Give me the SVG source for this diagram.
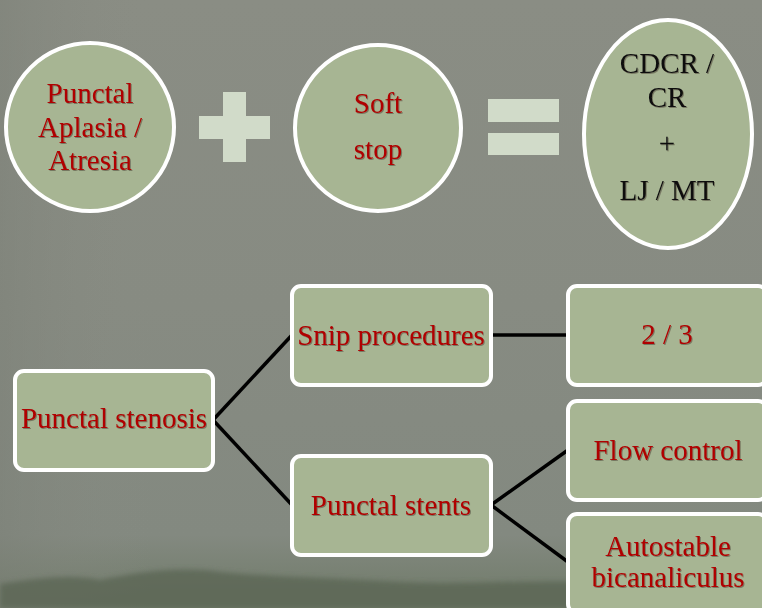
<svg xmlns="http://www.w3.org/2000/svg" width="762" height="608" viewBox="0 0 762 608">
<defs>
<linearGradient id="bg" x1="0" y1="0" x2="0" y2="1">
<stop offset="0" stop-color="#8a8d84"/>
<stop offset="0.5" stop-color="#878b82"/>
<stop offset="0.88" stop-color="#838980"/>
<stop offset="1" stop-color="#6f7a68"/>
</linearGradient>
<linearGradient id="side" x1="0" y1="0" x2="1" y2="0">
<stop offset="0" stop-color="#7c8077" stop-opacity="0.5"/>
<stop offset="0.2" stop-color="#8a8d84" stop-opacity="0"/>
</linearGradient>
<filter id="blur" x="-5%" y="-50%" width="110%" height="200%"><feGaussianBlur stdDeviation="2.5"/></filter>
<filter id="ts" x="-5%" y="-20%" width="110%" height="140%"><feDropShadow dx="1" dy="1" stdDeviation="0.6" flood-color="#3a2a20" flood-opacity="0.45"/></filter>
<style>
.node{fill:#a7b593;stroke:#ffffff;stroke-width:4}
.sym{fill:#d1dbc9}
.t{font-family:"Liberation Serif","Times New Roman",serif;font-size:29px;fill:#b00000;text-anchor:middle;filter:url(#ts)}
.k{fill:#111111}
.c{fill:none;stroke:#000000;stroke-width:3.5}
</style>
</defs>
<rect x="0" y="0" width="762" height="608" fill="url(#bg)"/>
<rect x="0" y="0" width="762" height="608" fill="url(#side)"/>
<path d="M0,584 C40,578 70,574 100,580 C140,572 180,566 220,572 C280,578 340,578 400,582 C460,585 520,580 580,582 C650,584 710,580 762,582 L762,608 L0,608 Z" fill="#5b6655" opacity="0.8" filter="url(#blur)"/>

<g id="aplasia">
<circle class="node" cx="90" cy="127" r="84"/>
<text class="t" x="90" y="103">Punctal</text>
<text class="t" x="90" y="137">Aplasia /</text>
<text class="t" x="90" y="170">Atresia</text>
</g>
<g id="plus">
<rect class="sym" x="223" y="92" width="23" height="70"/>
<rect class="sym" x="199" y="116" width="71" height="23"/>
</g>
<g id="softstop">
<circle class="node" cx="378" cy="128" r="83"/>
<text class="t" x="378" y="113">Soft</text>
<text class="t" x="378" y="159">stop</text>
</g>
<g id="equals">
<rect class="sym" x="488" y="99" width="71" height="23"/>
<rect class="sym" x="488" y="133" width="71" height="22"/>
</g>
<g id="result">
<ellipse class="node" cx="668" cy="134" rx="84" ry="114"/>
<text class="t k" x="667" y="73">CDCR /</text>
<text class="t k" x="667" y="107">CR</text>
<text class="t k" x="667" y="153">+</text>
<text class="t k" x="667" y="200">LJ / MT</text>
</g>

<g id="connectors">
<line class="c" x1="213" y1="420" x2="292" y2="335"/>
<line class="c" x1="213" y1="420" x2="292" y2="505"/>
<line class="c" x1="491" y1="335" x2="568" y2="335"/>
<line class="c" x1="491" y1="505" x2="568" y2="450"/>
<line class="c" x1="491" y1="505" x2="568" y2="562"/>
</g>

<g id="stenosis">
<rect class="node" x="15" y="371" width="198" height="99" rx="9"/>
<text class="t" x="114" y="428">Punctal stenosis</text>
</g>
<g id="snip">
<rect class="node" x="292" y="286" width="199" height="99" rx="9"/>
<text class="t" x="391" y="345">Snip procedures</text>
</g>
<g id="stents">
<rect class="node" x="292" y="456" width="199" height="99" rx="9"/>
<text class="t" x="391" y="515">Punctal stents</text>
</g>
<g id="twothree">
<rect class="node" x="568" y="286" width="199" height="99" rx="9"/>
<text class="t" x="667" y="344">2 / 3</text>
</g>
<g id="flow">
<rect class="node" x="568" y="401" width="199" height="99" rx="9"/>
<text class="t" x="668" y="460">Flow control</text>
</g>
<g id="autostable">
<rect class="node" x="568" y="514" width="199" height="99" rx="9"/>
<text class="t" x="668" y="556">Autostable</text>
<text class="t" x="668" y="587">bicanaliculus</text>
</g>
</svg>
